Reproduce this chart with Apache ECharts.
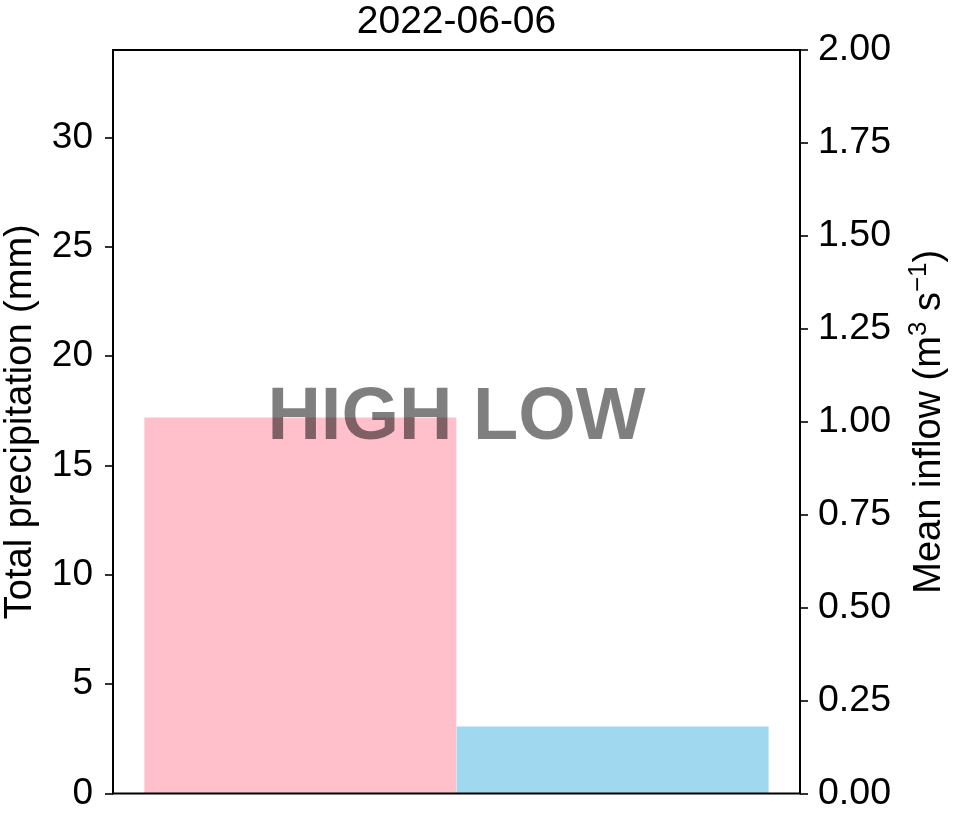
<!DOCTYPE html>
<html>
<head>
<meta charset="utf-8">
<script src="https://cdn.jsdelivr.net/npm/echarts@6/dist/echarts.min.js"></script>
<style>
  html, body { margin: 0; padding: 0; background: #fff; }
  #chart { width: 953px; height: 815px; }
</style>
</head>
<body>
<div id="chart"></div>
<script>
// Event date and classification words shown over the plot
const eventDate = '2022-06-06';
const eventClass = ['HIGH', 'LOW'];

// Bar positions on the x scale (precipitation at 0, inflow at 1)
const barPositions = [0, 1];
const precipitation = [17.2];   // total precipitation, mm
const inflow = [0.18];          // mean inflow, m3 s-1

// Axis ranges and tick values
const precipRange = [0, 34];
const inflowRange = [0, 2];
const precipTicks = [0, 5, 10, 15, 20, 25, 30];
const inflowTicks = [0, 0.25, 0.5, 0.75, 1, 1.25, 1.5, 1.75, 2];

const FONT = '"Liberation Sans", Arial, Helvetica, sans-serif';

const chart = echarts.init(document.getElementById('chart'), null, { renderer: 'canvas' });

const gridLeft = 113, gridRight = 153, gridTop = 50, gridBottom = 21.5;

chart.setOption({
  animation: false,
  backgroundColor: '#fff',
  title: {
    text: eventDate,
    left: gridLeft + (953 - gridLeft - gridRight) / 2,
    top: 3,
    padding: 0,
    textAlign: 'center',
    textStyle: { fontFamily: FONT, fontSize: 39, fontWeight: 'normal', color: '#000' }
  },
  grid: {
    left: gridLeft, right: gridRight, top: gridTop, bottom: gridBottom,
    containLabel: false, outerBoundsMode: 'none',
    show: true, borderColor: '#000', borderWidth: 1.8, z: 5
  },
  xAxis: {
    type: 'value', min: -0.6, max: 1.6,
    axisLine: { show: false }, axisTick: { show: false },
    axisLabel: { show: false }, splitLine: { show: false }
  },
  yAxis: [
    {
      type: 'value', position: 'left',
      min: precipRange[0], max: precipRange[1], interval: 5,
      name: 'Total precipitation (mm)', nameLocation: 'middle', nameGap: 68,
      nameMoveOverlap: false,
      nameTextStyle: { fontFamily: FONT, fontSize: 38, color: '#000', lineHeight: 48 },
      axisLine: { show: true, onZero: false, lineStyle: { color: '#000', width: 1.8 } },
      axisTick: { show: true, length: 8, lineStyle: { color: '#000', width: 1.6 }, customValues: precipTicks },
      axisLabel: { fontFamily: FONT, fontSize: 37, color: '#000', margin: 20, customValues: precipTicks },
      splitLine: { show: false }
    },
    {
      type: 'value', position: 'right',
      min: inflowRange[0], max: inflowRange[1], interval: 0.25,
      name: 'Mean inflow (m{sup|3} s{sup|−1})', nameLocation: 'middle', nameGap: 106,
      nameMoveOverlap: false,
      nameTextStyle: {
        fontFamily: FONT, fontSize: 38, color: '#000', lineHeight: 48,
        rich: {
          sup: { fontFamily: FONT, fontSize: 26, lineHeight: 26, verticalAlign: 'top', color: '#000' }
        }
      },
      axisLine: { show: true, onZero: false, lineStyle: { color: '#000', width: 1.8 } },
      axisTick: { show: true, length: 8, lineStyle: { color: '#000', width: 1.6 }, customValues: inflowTicks },
      axisLabel: {
        fontFamily: FONT, fontSize: 37.5, color: '#000', margin: 18, customValues: inflowTicks,
        formatter: v => v.toFixed(2)
      },
      splitLine: { show: false }
    }
  ],
  series: [
    {
      name: 'Total precipitation', type: 'bar', yAxisIndex: 0, z: 1,
      barWidth: 312,
      itemStyle: { color: '#FFC0CB' },
      data: precipitation.map((v, i) => [barPositions[0], v])
    },
    {
      name: 'Mean inflow', type: 'bar', yAxisIndex: 1, z: 1,
      barWidth: 312, barGap: '-100%',
      itemStyle: { color: '#9FD8EF' },
      data: inflow.map((v, i) => [barPositions[1], v])
    }
  ],
  graphic: [
    {
      type: 'text', z: 100,
      x: gridLeft + (953 - gridLeft - gridRight) / 2,
      y: 419,
      style: {
        text: eventClass.join(' '),
        fontFamily: FONT, fontSize: 74, fontWeight: 'bold',
        fill: 'rgba(0,0,0,0.5)',
        textAlign: 'center', textVerticalAlign: 'middle'
      }
    }
  ]
});
</script>
</body>
</html>
